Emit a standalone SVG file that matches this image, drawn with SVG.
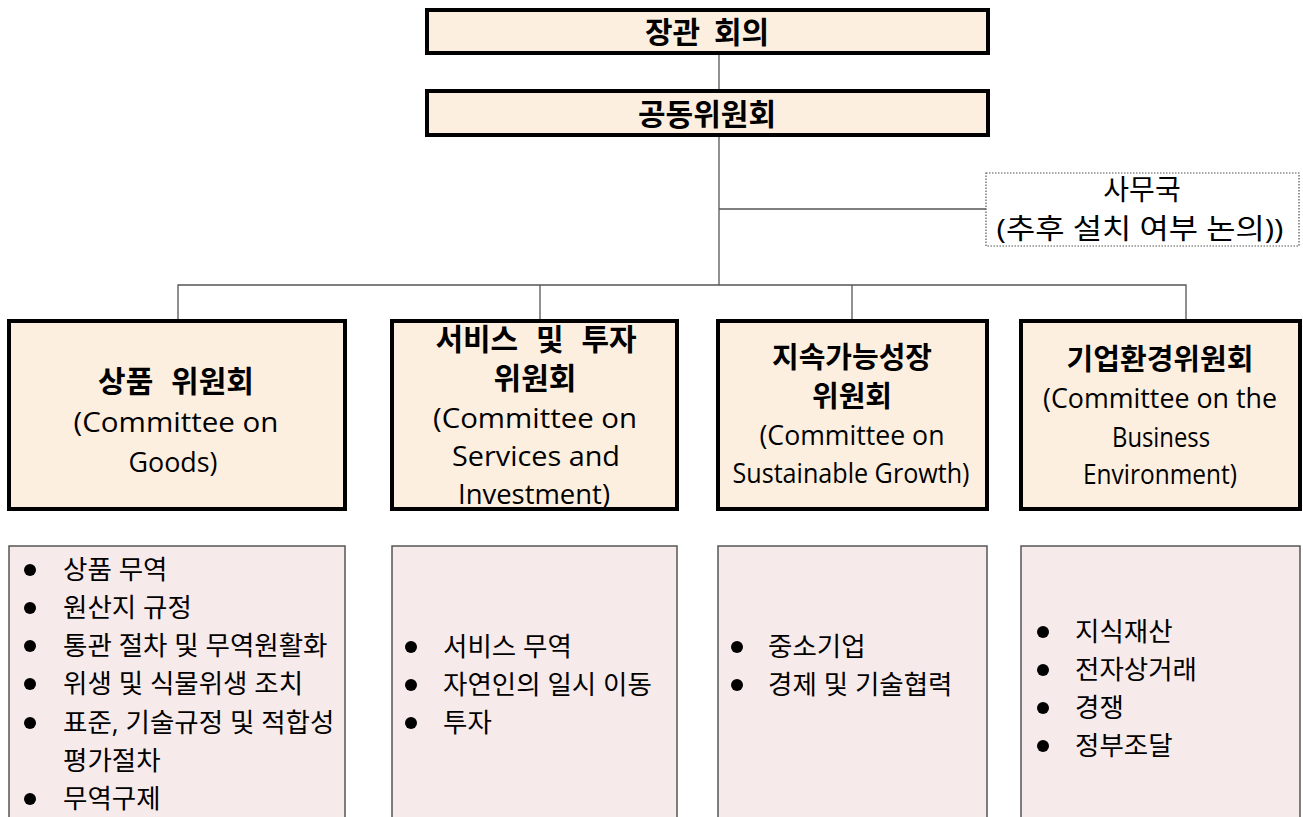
<svg xmlns="http://www.w3.org/2000/svg" width="1303" height="817" viewBox="0 0 1303 817">
<style>
text{font-family:"Open Sans","Noto Sans CJK KR",sans-serif;fill:#000;dominant-baseline:central;text-anchor:middle}
.hd{fill:#FDEFE0;stroke:#000;stroke-width:4}
.ls{fill:#F7EAEA;stroke:#555;stroke-width:1.5}
.t{font-size:30px;font-weight:bold}
.b{font-size:30px;font-weight:bold;word-spacing:10px}
.b2{font-size:29px;font-weight:bold}
.e{font-size:28px}
.s{font-size:28px}
.li{font-size:26.5px;text-anchor:start}
.con{stroke:#555;stroke-width:1.3;fill:none}
.dot{fill:#000}
</style>
<g id="connectors">
<line class="con" x1="719" y1="53" x2="719" y2="90"/>
<line class="con" x1="719" y1="135" x2="719" y2="285"/>
<line class="con" x1="719" y1="209" x2="986" y2="209"/>
<polyline class="con" points="178,319 178,285 1186,285 1186,319"/>
<line class="con" x1="540" y1="285" x2="540" y2="319"/>
<line class="con" x1="852" y1="285" x2="852" y2="319"/>
</g>
<g id="minister">
<rect class="hd" x="427" y="10" width="561" height="43"/>
<text class="t" x="707" y="31" word-spacing="6">장관 회의</text>
</g>
<g id="joint">
<rect class="hd" x="427" y="91" width="561" height="44"/>
<text class="t" x="707" y="113">공동위원회</text>
</g>
<g id="secretariat">
<rect x="986" y="173" width="313" height="73" fill="#fff" stroke="#555" stroke-width="1.2" stroke-dasharray="1.5,1.5"/>
<text class="s" x="1142" y="189">사무국</text>
<text class="s" x="1140" y="228" textLength="287" lengthAdjust="spacingAndGlyphs">(추후 설치 여부 논의))</text>
</g>
<g id="goods">
<rect class="hd" x="9" y="321" width="336" height="188"/>
<text class="b" x="176" y="380">상품 위원회</text>
<text class="e" x="176" y="421" textLength="205" lengthAdjust="spacingAndGlyphs">(Committee  on</text>
<text class="e" x="173" y="461" textLength="89" lengthAdjust="spacingAndGlyphs">Goods)</text>
</g>
<g id="services">
<rect class="hd" x="392" y="321" width="285" height="188"/>
<text class="b" x="536" y="338">서비스 및 투자</text>
<text class="b" x="535" y="377">위원회</text>
<text class="e" x="535" y="417" textLength="204" lengthAdjust="spacingAndGlyphs">(Committee  on</text>
<text class="e" x="536" y="455" textLength="168" lengthAdjust="spacingAndGlyphs">Services  and</text>
<text class="e" x="534" y="493" textLength="152" lengthAdjust="spacingAndGlyphs">Investment)</text>
</g>
<g id="sustainable">
<rect class="hd" x="718" y="321" width="269" height="188"/>
<text class="b2" x="852" y="356">지속가능성장</text>
<text class="b2" x="852" y="395">위원회</text>
<text class="e" x="852" y="434" textLength="185" lengthAdjust="spacingAndGlyphs">(Committee  on</text>
<text class="e" x="851" y="472" textLength="237" lengthAdjust="spacingAndGlyphs">Sustainable  Growth)</text>
</g>
<g id="business">
<rect class="hd" x="1021" y="321" width="279" height="188"/>
<text class="b2" x="1160" y="358" font-size="27.5">기업환경위원회</text>
<text class="e" x="1160" y="397" textLength="234" lengthAdjust="spacingAndGlyphs">(Committee on the</text>
<text class="e" x="1161" y="436" textLength="98" lengthAdjust="spacingAndGlyphs">Business</text>
<text class="e" x="1160" y="473" textLength="154" lengthAdjust="spacingAndGlyphs">Environment)</text>
</g>
<g id="goods-list">
<rect class="ls" x="9" y="546" width="336" height="280"/>
<circle class="dot" cx="30" cy="570" r="6"/><text class="li" x="63" y="569">상품 무역</text>
<circle class="dot" cx="30" cy="608" r="6"/><text class="li" x="63" y="607">원산지 규정</text>
<circle class="dot" cx="30" cy="646" r="6"/><text class="li" x="63" y="645">통관 절차 및 무역원활화</text>
<circle class="dot" cx="30" cy="684" r="6"/><text class="li" x="63" y="683">위생 및 식물위생 조치</text>
<circle class="dot" cx="30" cy="723" r="6"/><text class="li" x="63" y="722">표준, 기술규정 및 적합성</text>
<text class="li" x="63" y="760">평가절차</text>
<circle class="dot" cx="30" cy="799" r="6"/><text class="li" x="63" y="798">무역구제</text>
</g>
<g id="services-list">
<rect class="ls" x="392" y="546" width="285" height="280"/>
<circle class="dot" cx="411" cy="647" r="6"/><text class="li" x="443" y="646">서비스 무역</text>
<circle class="dot" cx="411" cy="685" r="6"/><text class="li" x="443" y="684">자연인의 일시 이동</text>
<circle class="dot" cx="411" cy="723" r="6"/><text class="li" x="443" y="722">투자</text>
</g>
<g id="sustainable-list">
<rect class="ls" x="718" y="546" width="269" height="280"/>
<circle class="dot" cx="737" cy="647" r="6"/><text class="li" x="768" y="646">중소기업</text>
<circle class="dot" cx="737" cy="685" r="6"/><text class="li" x="768" y="684">경제 및 기술협력</text>
</g>
<g id="business-list">
<rect class="ls" x="1021" y="546" width="279" height="280"/>
<circle class="dot" cx="1043" cy="632" r="6"/><text class="li" x="1075" y="631">지식재산</text>
<circle class="dot" cx="1043" cy="670" r="6"/><text class="li" x="1075" y="669">전자상거래</text>
<circle class="dot" cx="1043" cy="708" r="6"/><text class="li" x="1075" y="707">경쟁</text>
<circle class="dot" cx="1043" cy="746" r="6"/><text class="li" x="1075" y="745">정부조달</text>
</g>
</svg>
